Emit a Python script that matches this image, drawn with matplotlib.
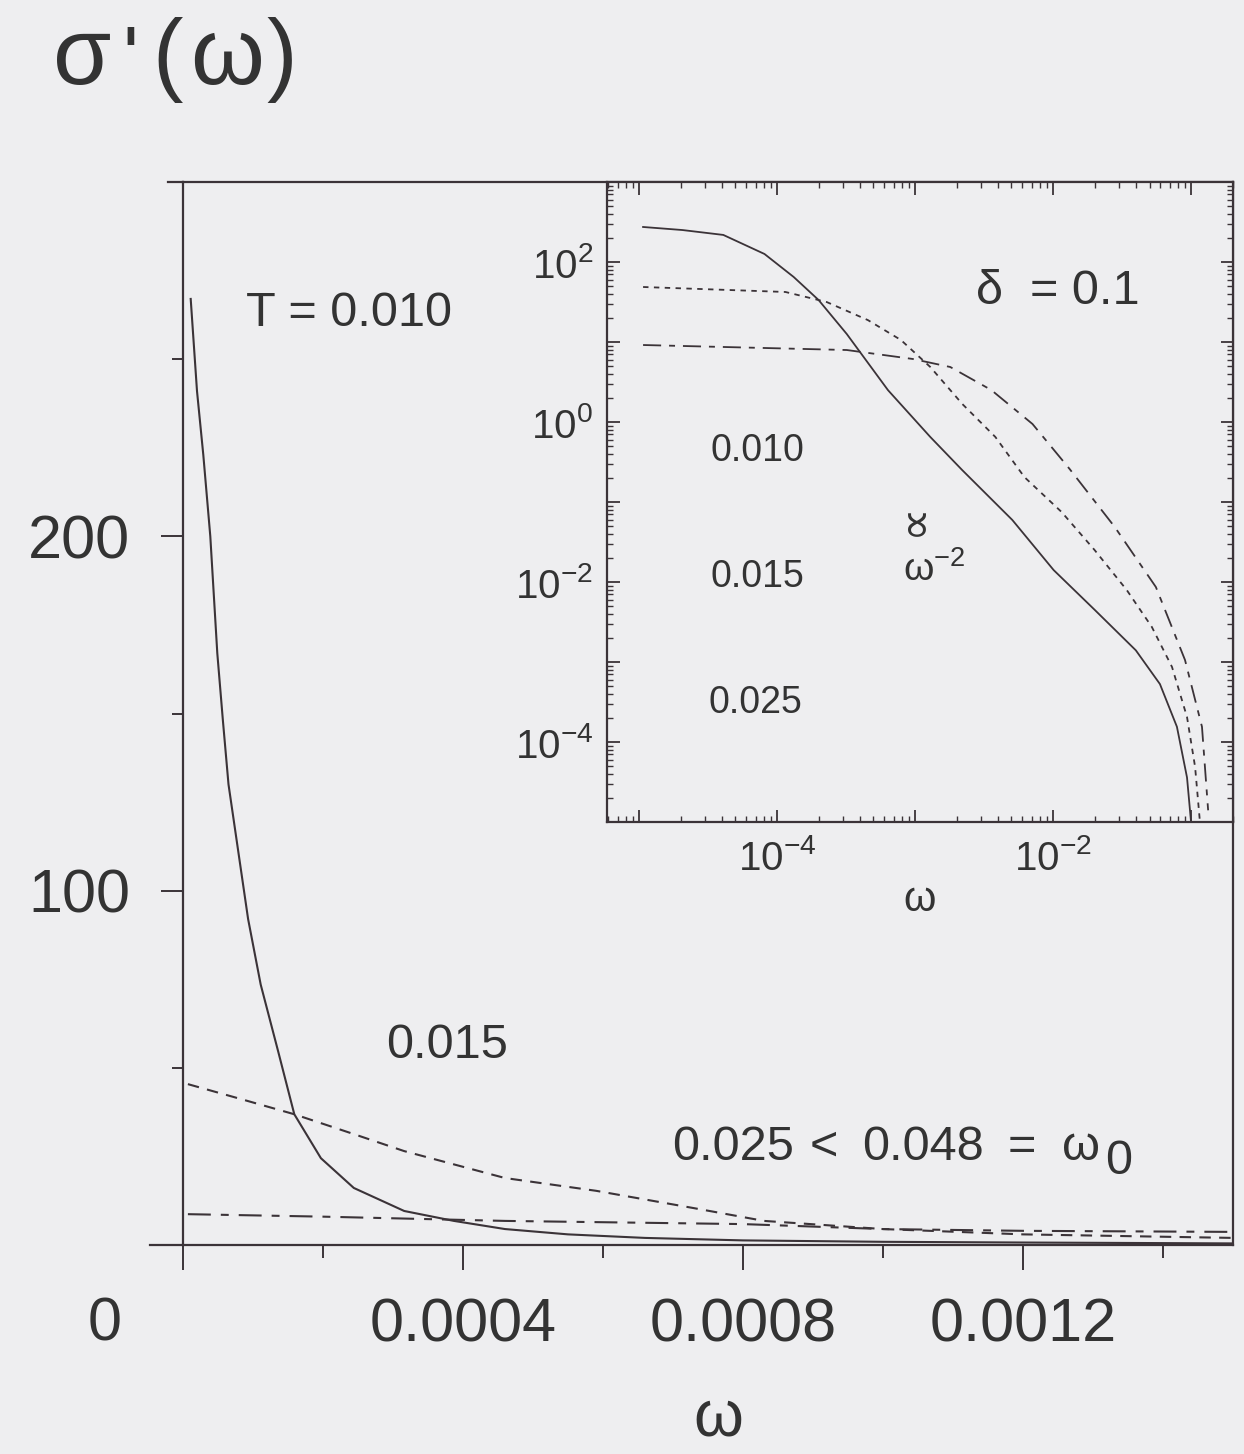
import numpy as np
import matplotlib
matplotlib.use("Agg")
import matplotlib.pyplot as plt
from matplotlib.ticker import FixedLocator, FuncFormatter, LogLocator, NullFormatter
from matplotlib.lines import Line2D

plt.rcParams['font.family'] = ['Liberation Sans', 'DejaVu Sans']
plt.rcParams['mathtext.fontset'] = 'custom'
plt.rcParams['mathtext.rm'] = 'Liberation Sans'
plt.rcParams['mathtext.it'] = 'Liberation Sans'
plt.rcParams['mathtext.default'] = 'regular'

# ---------------- data ----------------
# main panel, linear axes
w_main_010 = [1.1e-5, 2.0e-5, 2.9e-5, 3.9e-5, 4.9e-5, 5.7e-5, 6.5e-5, 7.9e-5, 9.3e-5,
              1.11e-4, 1.36e-4, 1.59e-4, 1.97e-4, 2.44e-4, 3.16e-4, 3.87e-4, 4.6e-4,
              5.5e-4, 6.6e-4, 8.0e-4, 1.0e-3, 1.2e-3, 1.5e-3]
s_main_010 = [267, 241, 223, 200, 167, 148, 130, 111, 92,
              73.5, 54.6, 36.9, 24.5, 16.1, 9.6, 6.8, 4.5,
              3.0, 2.0, 1.3, 0.9, 0.7, 0.45]
w_main_015 = [7e-6, 7.9e-5, 1.59e-4, 2.44e-4, 3.16e-4, 4.6e-4, 5.9e-4, 7.3e-4, 8.3e-4,
              1.0e-3, 1.2e-3, 1.5e-3]
s_main_015 = [45.4, 41.4, 36.9, 31.3, 26.5, 18.9, 15.3, 10.4, 6.8, 4.5, 3.0, 2.0]
w_main_025 = [7e-6, 2.0e-4, 4.6e-4, 8.0e-4, 1.0e-3, 1.2e-3, 1.5e-3]
s_main_025 = [8.7, 8.0, 6.8, 5.9, 4.5, 4.0, 3.7]

# inset, log-log axes
w_in_010 = [1.07e-5, 2.06e-5, 4.08e-5, 8.11e-5, 1.32e-4, 2.0e-4, 3.2e-4, 6.37e-4, 1.29e-3,
            2.2e-3, 5.07e-3, 1.01e-2, 2.0e-2, 3.98e-2, 5.95e-2, 7.9e-2, 9.35e-2, 1.0e-1]
s_in_010 = [274, 251, 218, 126, 65, 33.5, 12.6, 2.5, 0.65,
            0.25, 0.0596, 0.0141, 4.5e-3, 1.4e-3, 5.3e-4, 1.55e-4, 3.6e-5, 1.0e-5]
w_in_015 = [1.07e-5, 1.15e-4, 2.29e-4, 4.55e-4, 7.9e-4, 1.29e-3, 2.2e-3, 3.82e-3, 6.2e-3,
            1.153e-2, 2.0e-2, 3.42e-2, 5.2e-2, 7.28e-2, 9.35e-2, 0.107, 0.116]
s_in_015 = [48.7, 42.2, 31.6, 18.8, 10.6, 4.87, 1.68, 0.65, 0.205,
            0.075, 0.0251, 7.94e-3, 2.74e-3, 8.66e-4, 2.05e-4, 4.87e-5, 1.0e-5]
w_in_025 = [1.07e-5, 3.2e-4, 9.66e-4, 1.8e-3, 3.57e-3, 7.1e-3, 1.32e-2, 2.8e-2, 5.56e-2,
            9.04e-2, 0.12, 0.133]
s_in_025 = [9.17, 7.94, 6.13, 4.87, 2.51, 0.944, 0.258, 0.0487, 8.66e-3,
            1.06e-3, 1.55e-4, 1.4e-5]

x_major = [0, 0.0004, 0.0008, 0.0012]
x_major_labels = ['', '0.0004', '0.0008', '0.0012']
x_minor = [0.0002, 0.0006, 0.0010, 0.0014]
y_major = [100, 200]
y_minor = [50, 150, 250]

# ---------------- styling ----------------
BG = '#eeeef0'
INK = '#3b3338'
TXT = '#333333'

W, H = 1244, 1454
fig = plt.figure(figsize=(W / 100, H / 100), dpi=100, facecolor=BG)

def fx(px):
    return px / W

def fy(py):
    return 1 - py / H

def put(x, y, s, size, **kw):
    kw.setdefault('ha', 'left')
    kw.setdefault('va', 'center')
    fig.text(fx(x), fy(y), s, fontsize=size, color=TXT, **kw)

# main axes
L, R, T, B = 183, 1233, 182, 1245
ax = fig.add_axes([fx(L), fy(B), (R - L) / W, (B - T) / H], facecolor=BG)
ax.set_xlim(0, 0.0015)
ax.set_ylim(0, 300)
for sp in ax.spines.values():
    sp.set_color(INK)
    sp.set_linewidth(1.6)

ax.plot(w_main_010, s_main_010, color=INK, lw=1.5, solid_joinstyle='round')
ax.plot(w_main_015, s_main_015, color=INK, lw=1.5, dashes=(5.5, 4))
ax.plot(w_main_025, s_main_025, color=INK, lw=1.5, dashes=(11, 4.8, 3.8, 4.8))

ax.xaxis.set_major_locator(FixedLocator(x_major))
ax.xaxis.set_minor_locator(FixedLocator(x_minor))
ax.set_xticklabels(x_major_labels)
ax.yaxis.set_major_locator(FixedLocator(y_major))
ax.yaxis.set_minor_locator(FixedLocator(y_minor))
ax.tick_params(axis='x', which='major', direction='out', length=18, width=1.4,
               color=INK, labelsize=44, labelcolor=TXT, pad=20)
ax.tick_params(axis='x', which='minor', direction='out', length=9, width=1.4, color=INK)
ax.tick_params(axis='y', which='major', direction='out', length=16, width=1.4,
               color=INK, labelsize=44, labelcolor=TXT, pad=22)
ax.tick_params(axis='y', which='minor', direction='out', length=8, width=1.4, color=INK)

# spine extensions to the left
ax.add_line(Line2D([-33 / (R - L), 0], [0, 0], transform=ax.transAxes,
                   color=INK, lw=1.6, clip_on=False))
ax.add_line(Line2D([-15 / (R - L), 0], [1, 1], transform=ax.transAxes,
                   color=INK, lw=1.6, clip_on=False))

# labels / annotations on main
put(105, 1325, '0', 44, ha='center')
put(718, 1418, 'ω', 46, ha='center')
# y-axis title  σ '( ω )
put(53, 84, 'σ', 68, va='baseline')
put(122, 84, "'", 60, va='baseline')
put(152, 84, '(', 66, va='baseline')
put(190, 84, 'ω', 68, va='baseline')
put(266, 84, ')', 66, va='baseline')

put(246, 313, 'T = 0.010', 35)
put(386, 1045, '0.015', 35)
put(672, 1147, '0.025', 35)
put(810, 1147, '<', 35)
put(862, 1147, '0.048', 35)
put(1008, 1147, '=', 35)
put(1062, 1147, 'ω', 35)
put(1105, 1162, '0', 35)

# inset axes
IL, IB = 607, 822
ins = fig.add_axes([fx(IL), fy(IB), (R - IL) / W, (IB - T) / H], facecolor=BG)
ins.set_xscale('log')
ins.set_yscale('log')
ins.set_xlim(10 ** -5.232, 10 ** -0.696)
ins.set_ylim(1e-5, 1e3)
for sp in ins.spines.values():
    sp.set_color(INK)
    sp.set_linewidth(1.6)

ins.plot(w_in_010, s_in_010, color=INK, lw=1.3, solid_joinstyle='round')
ins.plot(w_in_015, s_in_015, color=INK, lw=1.3, dashes=(3.0, 3.0))
ins.plot(w_in_025, s_in_025, color=INK, lw=1.3, dashes=(10, 4.4, 3.3, 4.4))

def even_pow(v, _):
    e = int(round(np.log10(v)))
    if e % 2 == 0:
        return r'$10^{%d}$' % e
    return ''

for axis in (ins.xaxis, ins.yaxis):
    axis.set_major_locator(LogLocator(base=10, numticks=20))
    axis.set_minor_locator(LogLocator(base=10, subs=np.arange(2, 10), numticks=20))
    axis.set_major_formatter(FuncFormatter(even_pow))
    axis.set_minor_formatter(NullFormatter())
ins.tick_params(which='major', direction='in', length=9, width=1.3, color=INK,
                top=True, right=True, labelsize=29, labelcolor=TXT)
ins.tick_params(which='minor', direction='in', length=4.5, width=1.0, color=INK,
                top=True, right=True)
ins.tick_params(axis='x', which='major', pad=12)
ins.tick_params(axis='y', which='major', pad=10)

put(920, 900, 'ω', 30, ha='center')
put(976, 291, 'δ  = 0.1', 35)
put(710, 451, '0.010', 27)
put(710, 577, '0.015', 27)
put(708, 703, '0.025', 27)
put(915, 519, '∝', 34, ha='center', rotation=90)
put(903, 570, r'ω$^{-2}$', 28)

fig.savefig('out.png', dpi=100, facecolor=BG)
